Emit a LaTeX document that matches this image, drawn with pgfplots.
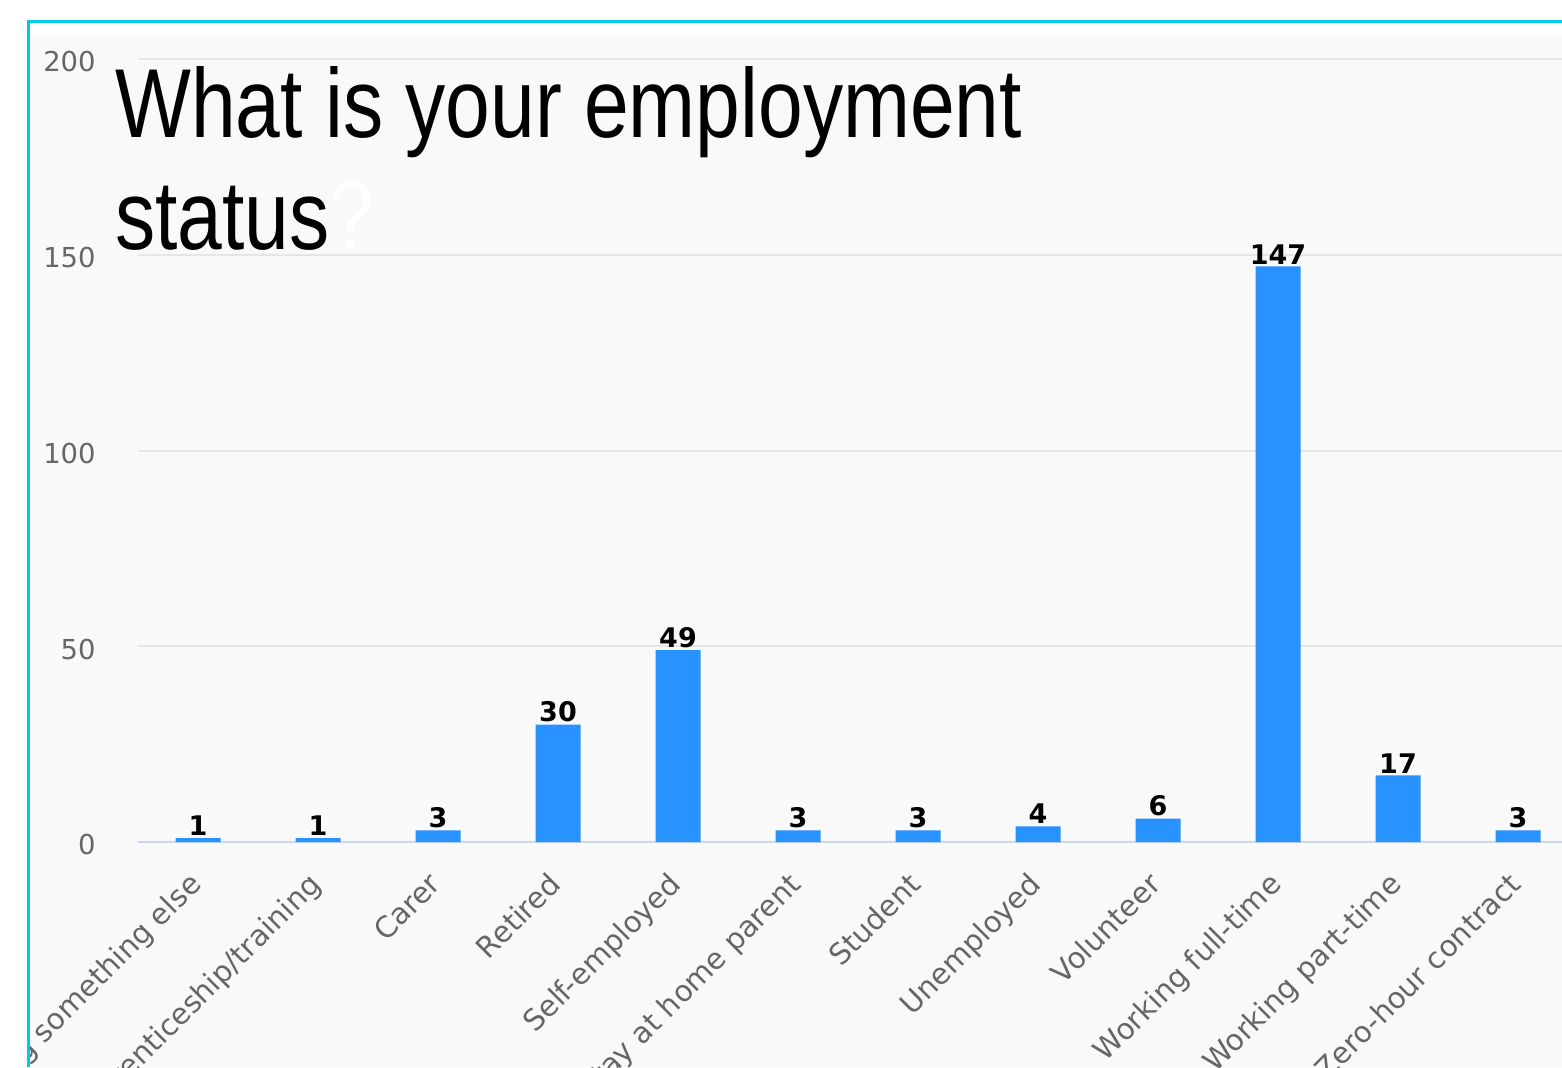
\documentclass[border=0pt]{standalone}
\usepackage{pgfplots}
\pgfplotsset{compat=1.18}
\usepackage{fontspec}
\setmainfont{DejaVu Sans}
\newfontfamily\titlefont[FakeStretch=0.82]{Liberation Sans}
\definecolor{barblue}{RGB}{40,146,255}
\definecolor{gridgray}{RGB}{230,230,230}
\definecolor{axisblue}{RGB}{204,214,235}
\definecolor{ticktext}{RGB}{102,102,102}
\definecolor{panel}{RGB}{249,249,249}
\definecolor{framecyan}{RGB}{0,200,230}
\begin{document}
\begin{tikzpicture}
\useasboundingbox (0,0) rectangle (781pt,533.5pt);
\clip (0,0) rectangle (781pt,533.5pt);
\fill[white] (0,0) rectangle (781pt,533.5pt);
\fill[panel] (15pt,0) rectangle (781pt,516pt);
\begin{scope}
\clip (15pt,0) rectangle (781pt,516pt);
\begin{axis}[
  at={(69pt,112.5pt)}, anchor=south west, scale only axis,
  width=720pt, height=391.5pt,
  xmin=-0.5, xmax=11.5, ymin=0, ymax=200,
  clip=false,
  /pgf/number format/assume math mode=true,
  axis lines*=left,
  y axis line style={draw=none},
  x axis line style={-, draw=axisblue, line width=1pt},
  tick style={draw=none},
  major tick length=0pt,
  ymajorgrids,
  grid style={draw=gridgray, line width=1pt},
  ytick={0,50,100,150,200},
  xtick={0,1,2,3,4,5,6,7,8,9,10,11},
  xticklabels={I'm doing something else,Apprenticeship/training,Carer,Retired,Self-employed,Stay at home parent,Student,Unemployed,Volunteer,Working full-time,Working part-time,Zero-hour contract},
  tick label style={text=ticktext},
  yticklabel style={font=\fontsize{13.7}{16}\selectfont, anchor=east, inner sep=0pt, xshift=-21pt, yshift=-1.5pt},
  xticklabel style={font=\fontsize{14.6}{17}\selectfont, yshift=-14pt, xshift=-5.5pt, rotate=45, anchor=north east, inner sep=0pt},
]
\addplot[ybar, bar width=22.5pt, fill=barblue, draw=none,
  nodes near coords,
  nodes near coords style={font=\bfseries\fontsize{13.5}{16}\selectfont, text=black, anchor=south, inner sep=1pt}]
  coordinates {(0,1) (1,1) (2,3) (3,30) (4,49) (5,3) (6,3) (7,4) (8,6) (9,147) (10,17) (11,3)};
\end{axis}
\end{scope}
\draw[framecyan, line width=1.5pt] (14pt,0) -- (14pt,522.75pt) -- (782pt,522.75pt);
\node[anchor=base west, inner sep=0pt, font=\titlefont\fontsize{49}{58}\selectfont] at (57.5pt,464.5pt) {What is your employment};
\node[anchor=base west, inner sep=0pt, font=\titlefont\fontsize{49}{58}\selectfont] at (57.5pt,408.5pt) {status\textcolor{white}{?}};
\end{tikzpicture}
\end{document}
